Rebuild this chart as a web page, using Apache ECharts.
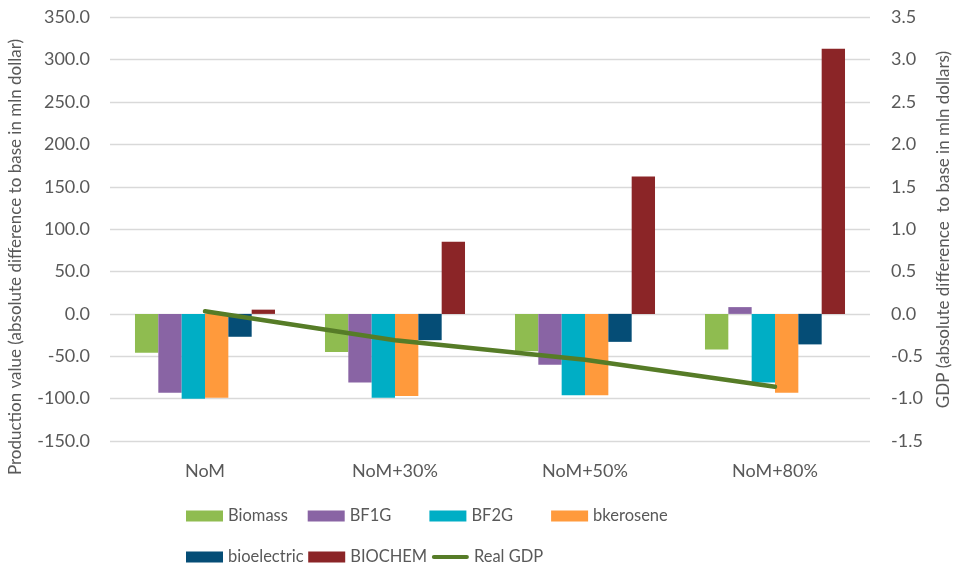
<!DOCTYPE html>
<html>
<head>
<meta charset="utf-8">
<script src="https://cdn.jsdelivr.net/npm/echarts@6/dist/echarts.min.js"></script>
<style>
  html, body { margin: 0; padding: 0; background: #fff; }
  #chart { width: 954px; height: 566px; }
</style>
</head>
<body>
<div id="chart"></div>
<script>
// Scenarios on the category axis
const categories = ['NoM', 'NoM+30%', 'NoM+50%', 'NoM+80%'];

// Production value change per sector (mln dollar)
const biomass     = [-46, -45, -44, -42];
const bf1g        = [-93, -81, -60, 8];
const bf2g        = [-100, -99, -96, -81];
const bkerosene   = [-99, -97, -96, -93];
const bioelectric = [-27, -31, -33, -36];
const biochem     = [5, 85, 162, 313];

// Real GDP change (mln dollars, right axis)
const realGdp = [0.03, -0.31, -0.54, -0.86];

// Axis tick settings
const leftTicks  = { min: -150, max: 350, interval: 50 };
const rightTicks = { min: -1.5, max: 3.5, interval: 0.5 };

const FONT = 'Lato';
const TEXT = '#595959';
const GRID = '#d9d9d9';

const barSeries = [
  ['Biomass', biomass, '#8fbc50'],
  ['BF1G', bf1g, '#8964a4'],
  ['BF2G', bf2g, '#00aec5'],
  ['bkerosene', bkerosene, '#ff9a3c'],
  ['bioelectric', bioelectric, '#054d76'],
  ['BIOCHEM', biochem, '#8b2527']
].map(([name, data, color]) => ({
  name, type: 'bar', data,
  yAxisIndex: 0,
  barGap: '0%',
  barCategoryGap: '26.3%',
  itemStyle: { color },
  emphasis: { disabled: true }
}));

const legendBase = {
  left: 186,
  orient: 'horizontal',
  padding: 0,
  itemWidth: 37,
  itemHeight: 11,
  itemGap: 4.7,
  textStyle: { fontFamily: FONT, fontSize: 16.5, color: TEXT, width: 75, lineHeight: 20 },
  selectedMode: false
};
const barKey = name => ({ name, icon: 'rect' });
// thin rounded stroke inside the 37x11 key box for the line series
const lineKeyIcon = 'path://M0,0 M37,11 M2,3.5 L35,3.5 A2,2 0 0 1 35,7.5 L2,7.5 A2,2 0 0 1 2,3.5 Z';

const chart = echarts.init(document.getElementById('chart'), null, { renderer: 'canvas' });
chart.setOption({
  animation: false,
  backgroundColor: '#ffffff',
  grid: { left: 110, right: 84, top: 17.3, bottom: 125, containLabel: false },
  legend: [
    Object.assign({}, legendBase, { top: 506,
      data: ['Biomass', 'BF1G', 'BF2G', 'bkerosene'].map(barKey) }),
    Object.assign({}, legendBase, { top: 547,
      data: [barKey('bioelectric'), barKey('BIOCHEM'), { name: 'Real GDP', icon: lineKeyIcon }] })
  ],
  xAxis: {
    type: 'category',
    data: categories,
    axisLine: { show: false },
    axisTick: { show: false },
    axisLabel: { fontFamily: FONT, fontSize: 18, color: TEXT, margin: 21 }
  },
  yAxis: [
    {
      type: 'value', position: 'left',
      min: leftTicks.min, max: leftTicks.max, interval: leftTicks.interval,
      axisLine: { show: false }, axisTick: { show: false },
      splitLine: { lineStyle: { color: GRID, width: 1.3 } },
      axisLabel: { fontFamily: FONT, fontSize: 18, color: TEXT, margin: 20,
        formatter: v => v.toFixed(1) }
    },
    {
      type: 'value', position: 'right',
      min: rightTicks.min, max: rightTicks.max, interval: rightTicks.interval,
      axisLine: { show: false }, axisTick: { show: false },
      splitLine: { show: false },
      axisLabel: { fontFamily: FONT, fontSize: 18, color: TEXT, margin: 21,
        formatter: v => v.toFixed(1) }
    }
  ],
  series: barSeries.concat([{
    name: 'Real GDP', type: 'line', data: realGdp,
    yAxisIndex: 1,
    symbol: 'none',
    z: 5,
    lineStyle: { color: '#567c27', width: 4.5, cap: 'round', join: 'round' },
    itemStyle: { color: '#567c27' },
    emphasis: { disabled: true }
  }]),
  graphic: [
    {
      type: 'text', x: 16, y: 257, rotation: Math.PI / 2,
      style: { text: 'Production value (absolute difference to base in mln dollar)',
        fontFamily: FONT, fontSize: 17, fill: TEXT, align: 'center', verticalAlign: 'middle' }
    },
    {
      type: 'text', x: 944, y: 229.5, rotation: Math.PI / 2,
      style: { text: 'GDP (absolute difference  to base in mln dollars)',
        fontFamily: FONT, fontSize: 17, fill: TEXT, align: 'center', verticalAlign: 'middle' }
    }
  ]
});
</script>
</body>
</html>
